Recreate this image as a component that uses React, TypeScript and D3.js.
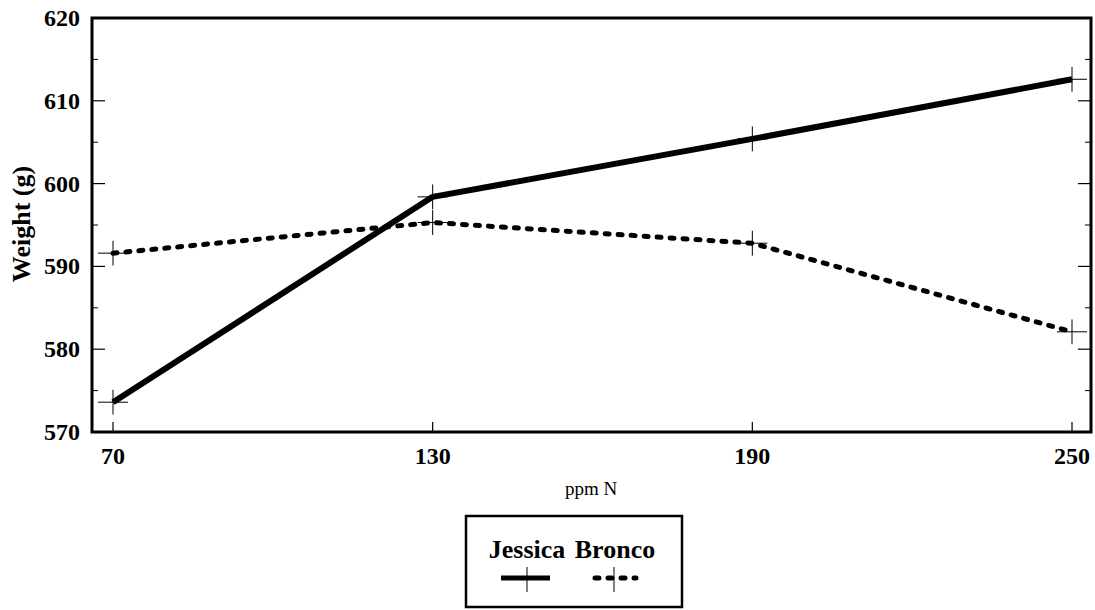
import React from "react";
import * as d3 from "d3";

// Nitrogen rates (ppm N)
const nitrogen = [70, 130, 190, 250];
// Mean fruit weight (g) per cultivar
const jessica = [573.6, 598.4, 605.4, 612.6];
const bronco = [591.6, 595.3, 592.8, 582.1];
// Half-width of the error bars (g)
const errJessica = [1.5, 1.5, 1.5, 1.5];
const errBronco = [1.5, 1.5, 1.5, 1.5];
// Axis ticks
const yTicks = [570, 580, 590, 600, 610, 620];
const yMinor = [575, 585, 595, 605, 615];
const seriesNames = ["Jessica", "Bronco"];

const W = 1095;
const H = 610;
const frame = { left: 92, right: 1091, top: 18, bottom: 432 };
const FONT = "'Liberation Serif', 'Times New Roman', serif";

export default function App() {
  const x = d3.scaleLinear().domain([70, 250]).range([113, 1072]);
  const y = d3.scaleLinear().domain([570, 620]).range([frame.bottom, frame.top]);

  const line = d3
    .line<number>()
    .x((_, i) => x(nitrogen[i]))
    .y((d) => y(d));

  const errorBars = (vals: number[], errs: number[], key: string) =>
    vals.map((v, i) => (
      <g key={key + i} stroke="#000" strokeWidth={1}>
        <line x1={x(nitrogen[i])} x2={x(nitrogen[i])} y1={y(v - errs[i])} y2={y(v + errs[i])} />
        <line x1={x(nitrogen[i]) - 15} x2={x(nitrogen[i]) + 15} y1={y(v)} y2={y(v)} />
      </g>
    ));

  const legendX = 466;
  const legendY = 516;
  const legendW = 216;
  const legendH = 91;

  return (
    <svg
      width={W}
      height={H}
      style={{ position: "absolute", left: 0, top: 0, background: "#fff" }}
      fontFamily={FONT}
    >
      <rect x={0} y={0} width={W} height={H} fill="#fff" />

      {/* y tick marks, both sides, pointing inward */}
      {yTicks.map((t) => (
        <g key={"yt" + t} stroke="#000" strokeWidth={1.2}>
          <line x1={frame.left} x2={frame.left + 13} y1={y(t)} y2={y(t)} />
          <line x1={frame.right} x2={frame.right - 13} y1={y(t)} y2={y(t)} />
        </g>
      ))}
      {yMinor.map((t) => (
        <g key={"ym" + t} stroke="#000" strokeWidth={1}>
          <line x1={frame.left} x2={frame.left + 6} y1={y(t)} y2={y(t)} />
          <line x1={frame.right} x2={frame.right - 6} y1={y(t)} y2={y(t)} />
        </g>
      ))}
      {/* x tick marks */}
      {nitrogen.map((n) => (
        <line key={"xt" + n} x1={x(n)} x2={x(n)} y1={frame.bottom} y2={frame.bottom - 10} stroke="#000" strokeWidth={1.2} />
      ))}

      {/* y tick labels */}
      {yTicks.map((t) => (
        <text
          key={"yl" + t}
          x={80}
          y={y(t)}
          textAnchor="end"
          dominantBaseline="central"
          fontSize={24}
          fontWeight="bold"
        >
          {t}
        </text>
      ))}
      {/* x tick labels */}
      {nitrogen.map((n) => (
        <text key={"xl" + n} x={x(n)} y={464} textAnchor="middle" fontSize={24} fontWeight="bold">
          {n}
        </text>
      ))}

      {/* axis titles */}
      <text x={591} y={495} textAnchor="middle" fontSize={19}>
        ppm N
      </text>
      <text
        transform={`translate(30, 224) rotate(-90)`}
        textAnchor="middle"
        fontSize={26}
        fontWeight="bold"
      >
        Weight (g)
      </text>

      {/* error bars */}
      {errorBars(jessica, errJessica, "ej")}
      {errorBars(bronco, errBronco, "eb")}

      {/* series lines */}
      <path d={line(jessica) ?? ""} fill="none" stroke="#000" strokeWidth={6} strokeLinejoin="round" />
      <path
        d={line(bronco) ?? ""}
        fill="none"
        stroke="#000"
        strokeWidth={5}
        strokeLinecap="round"
        strokeDasharray="4 9"
      />

      {/* plot frame */}
      <rect
        x={frame.left}
        y={frame.top}
        width={frame.right - frame.left}
        height={frame.bottom - frame.top}
        fill="none"
        stroke="#000"
        strokeWidth={3}
      />

      {/* legend */}
      <rect x={legendX} y={legendY} width={legendW} height={legendH} fill="none" stroke="#000" strokeWidth={2.5} />
      <text x={527} y={558} textAnchor="middle" fontSize={26} fontWeight="bold">
        {seriesNames[0]}
      </text>
      <text x={615} y={558} textAnchor="middle" fontSize={26} fontWeight="bold">
        {seriesNames[1]}
      </text>
      <line x1={501} x2={550} y1={578} y2={578} stroke="#000" strokeWidth={5} />
      <line x1={527} x2={527} y1={567} y2={592} stroke="#000" strokeWidth={1} />
      <line x1={595} x2={636} y1={578} y2={578} stroke="#000" strokeWidth={5} strokeLinecap="round" strokeDasharray="4 9" />
      <line x1={614} x2={614} y1={567} y2={592} stroke="#000" strokeWidth={1} />
    </svg>
  );
}
